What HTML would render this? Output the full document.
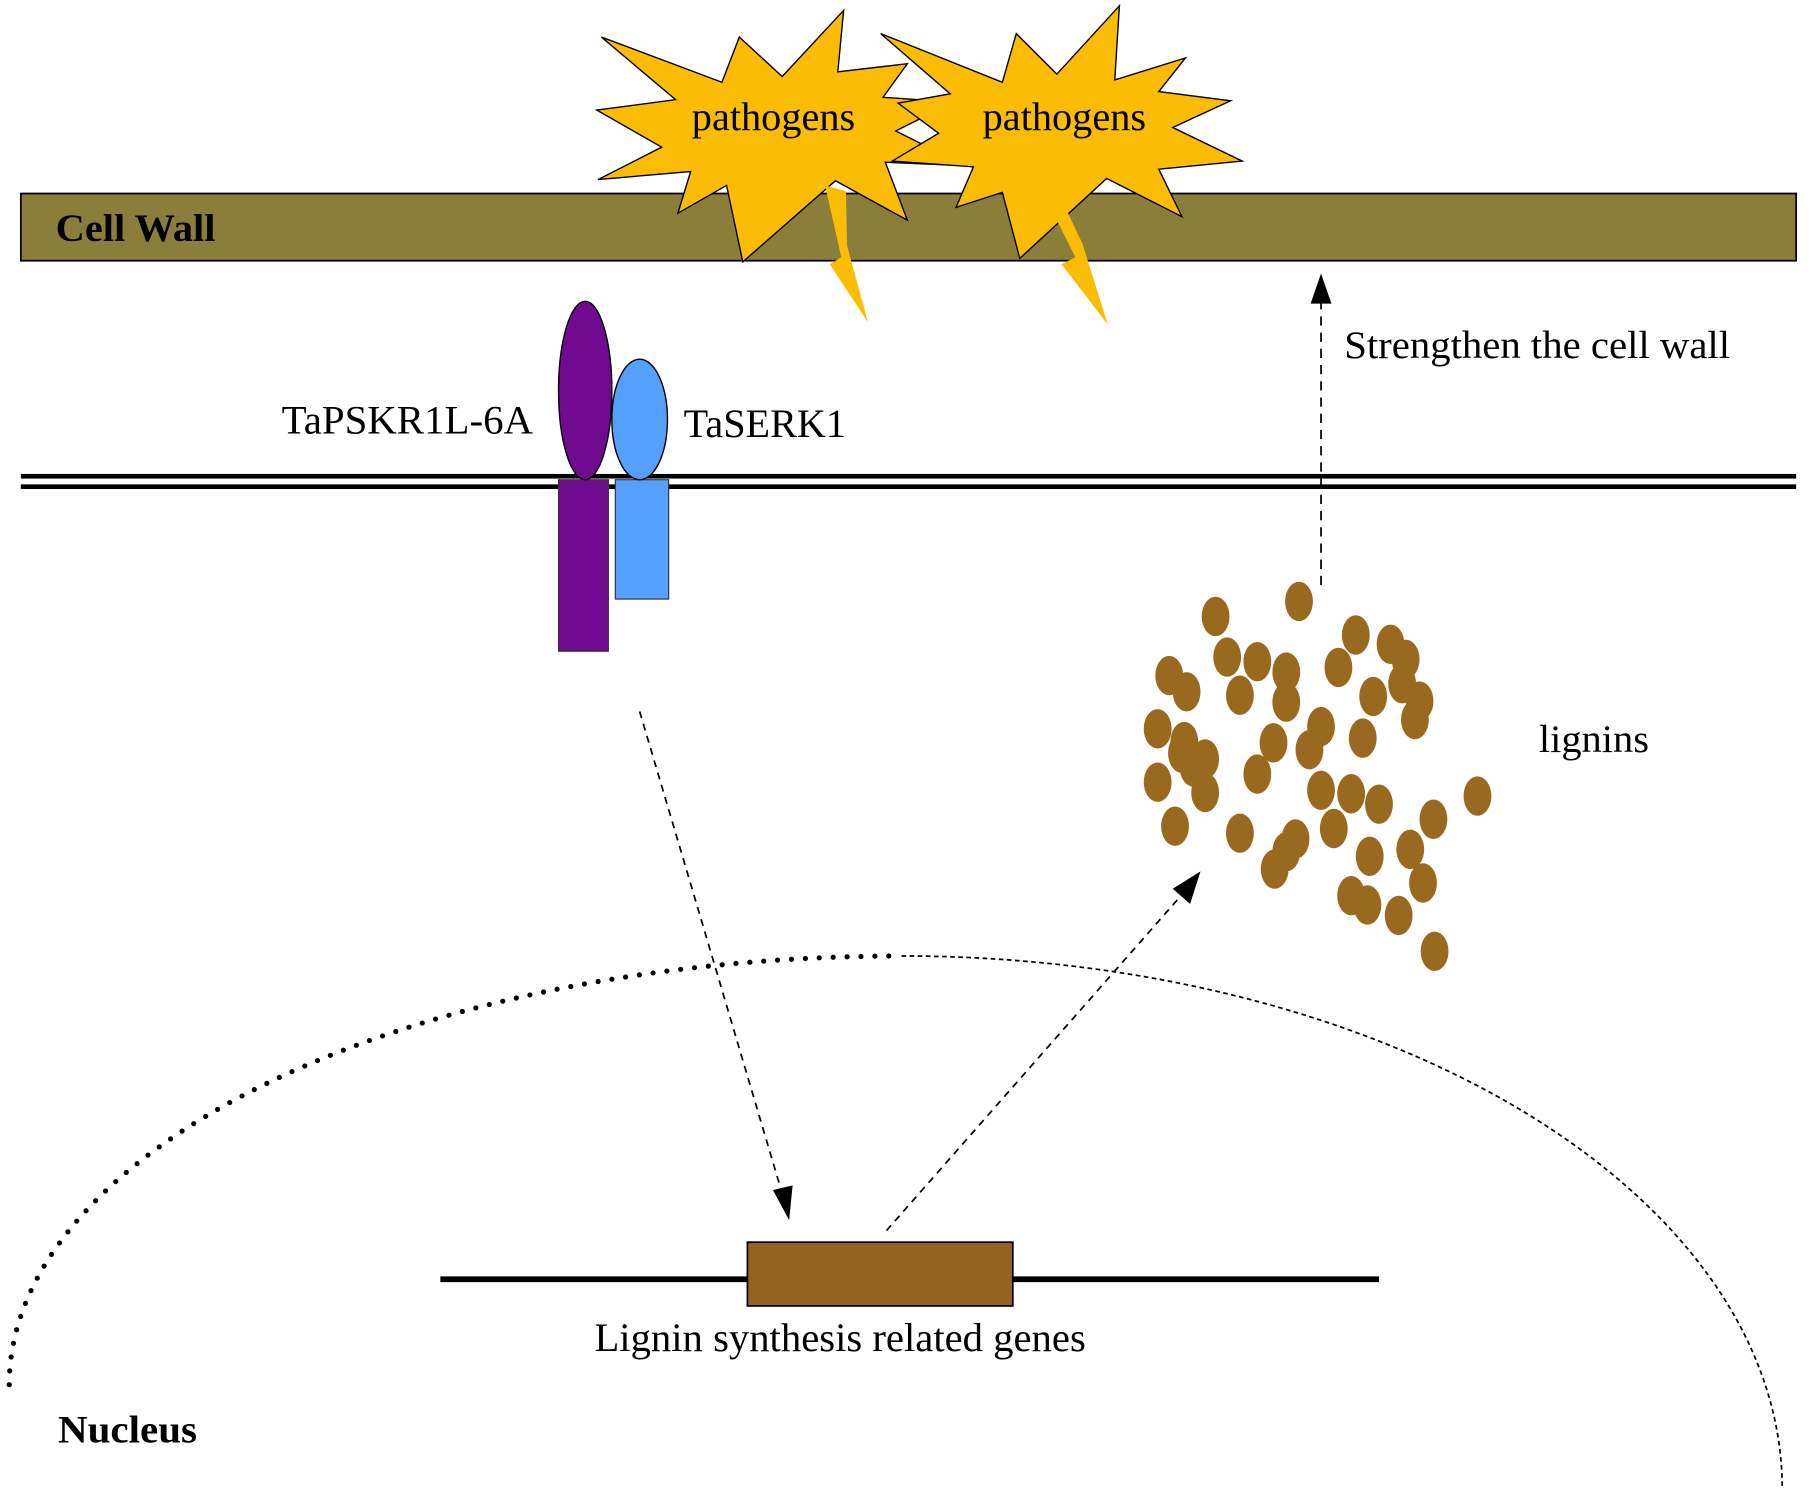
<!DOCTYPE html>
<html><head><meta charset="utf-8"><style>
html,body{margin:0;padding:0;background:#fff;}
svg{display:block;}
text{font-family:"Liberation Serif",serif;}
</style></head><body>
<svg width="1817" height="1489" viewBox="0 0 1568 1285" preserveAspectRatio="none" xmlns="http://www.w3.org/2000/svg">
<!-- cell wall -->
<rect x="18" y="167" width="1532" height="58" fill="#8b7d3a" stroke="#000" stroke-width="1.5"/>
<text x="48" y="208" font-size="34" font-weight="bold" textLength="138" lengthAdjust="spacingAndGlyphs">Cell Wall</text>
<!-- stars -->
<polygon fill="#fbbc05" stroke="#000" stroke-width="1.2" points="519,32 623,71 638,32 675,66 728,9 723,62 783,55 762,84 823,88 773,113 833,143 764,140 783,190 721,156 641,226 627,160 585,184 596,148 516,155 571,127 515,95 583,86"/>
<polygon fill="#fbbc05" stroke="#000" stroke-width="1.2" points="760,29 865,71 877,29 912,64 966,5 962,69 1023,50 1000,79 1062,87 1012,110 1072,139 1000,146 1020,187 955,154 880,223 865,166 825,179 840,144 770,139 810,115 775,89 820,81"/>
<text x="597" y="112" font-size="35" textLength="141" lengthAdjust="spacingAndGlyphs">pathogens</text>
<text x="848" y="112" font-size="35" textLength="141" lengthAdjust="spacingAndGlyphs">pathogens</text>
<!-- bolts -->
<polygon fill="#fbbc05" points="712,160 730,165 731,212 749,278 716,228 726,222"/>
<polygon fill="#fbbc05" points="898,162 914,168 934,210 956,280 916,228 928,222"/>
<!-- membrane -->
<rect x="18" y="409" width="1532" height="4" fill="#000"/>
<rect x="18" y="418" width="1532" height="4" fill="#000"/>
<!-- receptors -->
<rect x="482" y="414" width="43" height="148" fill="#700a8f" stroke="#333" stroke-width="1"/>
<ellipse cx="505" cy="337" rx="23" ry="77" fill="#700a8f" stroke="#000" stroke-width="1.2"/>
<rect x="531" y="414" width="46" height="103" fill="#55a0ff" stroke="#333" stroke-width="1"/>
<ellipse cx="552" cy="362" rx="24" ry="52" fill="#55a0ff" stroke="#000" stroke-width="1.2"/>
<text x="243" y="374" font-size="35" textLength="217" lengthAdjust="spacingAndGlyphs">TaPSKR1L-6A</text>
<text x="590" y="377" font-size="35" textLength="140" lengthAdjust="spacingAndGlyphs">TaSERK1</text>
<!-- strengthen arrow -->
<line x1="1140" y1="505" x2="1140" y2="258" stroke="#000" stroke-width="1.5" stroke-dasharray="8 6"/>
<polygon points="1140,236 1131,262 1149,262" fill="#000"/>
<text x="1160" y="309" font-size="34" textLength="333" lengthAdjust="spacingAndGlyphs">Strengthen the cell wall</text>
<!-- lignins -->
<g fill="#98691f">
<ellipse cx="1049" cy="532" rx="12" ry="17"/><ellipse cx="1121" cy="519" rx="12" ry="17"/><ellipse cx="1170" cy="548" rx="12" ry="17"/><ellipse cx="1200" cy="556" rx="12" ry="17"/><ellipse cx="1009" cy="583" rx="12" ry="17"/><ellipse cx="1059" cy="567" rx="12" ry="17"/><ellipse cx="1085" cy="571" rx="12" ry="17"/><ellipse cx="1110" cy="580" rx="12" ry="17"/><ellipse cx="1155" cy="576" rx="12" ry="17"/><ellipse cx="1213" cy="569" rx="12" ry="17"/><ellipse cx="1024" cy="597" rx="12" ry="17"/><ellipse cx="1070" cy="600" rx="12" ry="17"/><ellipse cx="1110" cy="606" rx="12" ry="17"/><ellipse cx="1185" cy="601" rx="12" ry="17"/><ellipse cx="1210" cy="590" rx="12" ry="17"/><ellipse cx="1225" cy="605" rx="12" ry="17"/><ellipse cx="1221" cy="621" rx="12" ry="17"/><ellipse cx="999" cy="629" rx="12" ry="17"/><ellipse cx="1140" cy="627" rx="12" ry="17"/><ellipse cx="1022" cy="640" rx="12" ry="17"/><ellipse cx="1099" cy="641" rx="12" ry="17"/><ellipse cx="1130" cy="647" rx="12" ry="17"/><ellipse cx="1176" cy="637" rx="12" ry="17"/><ellipse cx="1040" cy="655" rx="12" ry="17"/><ellipse cx="1030" cy="662" rx="12" ry="17"/><ellipse cx="1020" cy="650" rx="12" ry="17"/><ellipse cx="999" cy="675" rx="12" ry="17"/><ellipse cx="1085" cy="668" rx="12" ry="17"/><ellipse cx="1140" cy="682" rx="12" ry="17"/><ellipse cx="1166" cy="685" rx="12" ry="17"/><ellipse cx="1190" cy="694" rx="12" ry="17"/><ellipse cx="1040" cy="684" rx="12" ry="17"/><ellipse cx="1275" cy="687" rx="12" ry="17"/><ellipse cx="1237" cy="707" rx="12" ry="17"/><ellipse cx="1014" cy="713" rx="12" ry="17"/><ellipse cx="1070" cy="719" rx="12" ry="17"/><ellipse cx="1118" cy="724" rx="12" ry="17"/><ellipse cx="1151" cy="715" rx="12" ry="17"/><ellipse cx="1110" cy="735" rx="12" ry="17"/><ellipse cx="1182" cy="739" rx="12" ry="17"/><ellipse cx="1217" cy="733" rx="12" ry="17"/><ellipse cx="1100" cy="750" rx="12" ry="17"/><ellipse cx="1228" cy="762" rx="12" ry="17"/><ellipse cx="1166" cy="773" rx="12" ry="17"/><ellipse cx="1180" cy="781" rx="12" ry="17"/><ellipse cx="1207" cy="790" rx="12" ry="17"/><ellipse cx="1238" cy="821" rx="12" ry="17"/>
</g>
<text x="1328" y="649" font-size="34" textLength="95" lengthAdjust="spacingAndGlyphs">lignins</text>
<!-- signal arrows -->
<line x1="552" y1="614" x2="675" y2="1030" stroke="#000" stroke-width="1.5" stroke-dasharray="6 5"/>
<polygon points="681,1053 667,1027 684,1023" fill="#000"/>
<line x1="765" y1="1062" x2="1020" y2="772" stroke="#000" stroke-width="1.5" stroke-dasharray="6 5"/>
<polygon points="1036,752 1027,780 1012,767" fill="#000"/>
<!-- nucleus -->
<path d="M8,1195 A770,370 0 0 1 778,825" fill="none" stroke="#000" stroke-width="4.5" stroke-linecap="round" stroke-dasharray="0 12"/>
<path d="M778,825 A760,460 0 0 1 1538,1285" fill="none" stroke="#000" stroke-width="1.5" stroke-dasharray="4 3"/>
<!-- gene -->
<line x1="380" y1="1104" x2="1190" y2="1104" stroke="#000" stroke-width="5"/>
<rect x="645" y="1072" width="229" height="55" fill="#956320" stroke="#000" stroke-width="1.5"/>
<text x="513" y="1166" font-size="35" textLength="424" lengthAdjust="spacingAndGlyphs">Lignin synthesis related genes</text>
<text x="50" y="1245" font-size="34" font-weight="bold" textLength="120" lengthAdjust="spacingAndGlyphs">Nucleus</text>
</svg>
</body></html>
